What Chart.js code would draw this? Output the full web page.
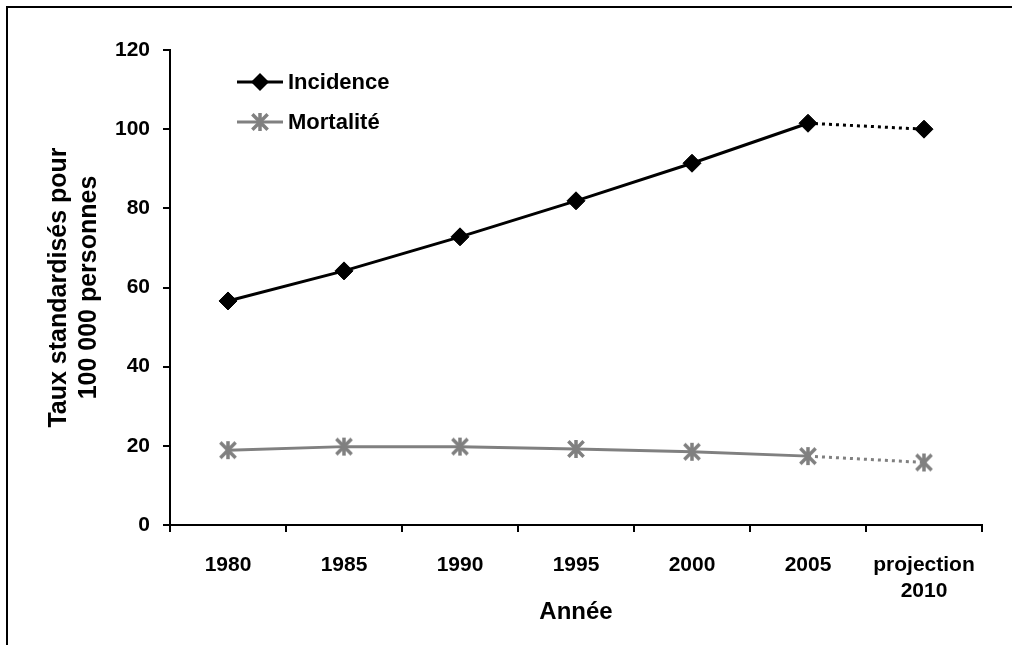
<!DOCTYPE html>
<html lang="fr">
<head>
<meta charset="utf-8">
<title>Incidence et mortalité</title>
<script src="https://cdn.jsdelivr.net/npm/chart.js@4.4.1/dist/chart.umd.min.js"></script>
<style>
  html, body { margin: 0; padding: 0; background: #fff; }
  canvas { display: block; }
</style>
</head>
<body>
<canvas id="chart" width="1012" height="645"></canvas>
<script>
// données
const annees = ['1980', '1985', '1990', '1995', '2000', '2005', ['projection', '2010']];
const incidence = [56.6, 64.2, 72.8, 81.9, 91.4, 101.5, 100.0];
const mortalite = [18.9, 19.8, 19.8, 19.2, 18.5, 17.4, 15.8];
const yMin = 0;
const yMax = 120;
const yPas = 20;

const NOIR = '#000000';
const GRIS = '#808080';
const POLICE = "'Liberation Sans', Arial, sans-serif";

// marqueur astérisque (X + trait vertical) pour la mortalité
function makeStar(size, color) {
  const c = document.createElement('canvas');
  c.width = size;
  c.height = size;
  const g = c.getContext('2d');
  const m = size / 2;
  const r = size / 2 - 2;
  g.strokeStyle = color;
  g.lineWidth = 3.5;
  g.lineCap = 'butt';
  g.beginPath();
  g.moveTo(m - r * 0.85, m - r * 0.85); g.lineTo(m + r * 0.85, m + r * 0.85);
  g.moveTo(m + r * 0.85, m - r * 0.85); g.lineTo(m - r * 0.85, m + r * 0.85);
  g.moveTo(m, m - r); g.lineTo(m, m + r);
  g.stroke();
  return c;
}
const star = makeStar(22, GRIS);

// le dernier segment (vers la projection) est en pointillé
const pointille = (ctx) => ctx.p1DataIndex === annees.length - 1 ? [3, 4] : undefined;

// cadre + légende dessinés à la main
const decor = {
  id: 'decor',
  beforeDraw(chart) {
    const ctx = chart.ctx;
    ctx.save();
    ctx.fillStyle = '#fff';
    ctx.fillRect(0, 0, chart.width, chart.height);
    ctx.strokeStyle = NOIR;
    ctx.lineWidth = 2;
    ctx.beginPath();
    ctx.moveTo(7, chart.height);
    ctx.lineTo(7, 7);
    ctx.lineTo(chart.width, 7);
    ctx.stroke();
    ctx.restore();
  },
  afterDraw(chart) {
    const ctx = chart.ctx;
    const x0 = 237, x1 = 283, xm = 260;
    ctx.save();
    ctx.font = 'bold 22px ' + POLICE;
    ctx.textBaseline = 'middle';
    ctx.fillStyle = NOIR;

    // Incidence
    let y = 82;
    ctx.strokeStyle = NOIR;
    ctx.lineWidth = 3;
    ctx.beginPath(); ctx.moveTo(x0, y); ctx.lineTo(x1, y); ctx.stroke();
    ctx.beginPath();
    ctx.moveTo(xm, y - 9); ctx.lineTo(xm + 9, y); ctx.lineTo(xm, y + 9); ctx.lineTo(xm - 9, y);
    ctx.closePath();
    ctx.fill();
    ctx.fillText(chart.data.datasets[0].label, 288, y + 1);

    // Mortalité
    y = 122;
    ctx.strokeStyle = GRIS;
    ctx.beginPath(); ctx.moveTo(x0, y); ctx.lineTo(x1, y); ctx.stroke();
    ctx.drawImage(star, xm - 11, y - 11);
    ctx.fillStyle = NOIR;
    ctx.fillText(chart.data.datasets[1].label, 288, y + 1);
    ctx.restore();
  }
};

new Chart(document.getElementById('chart'), {
  type: 'line',
  data: {
    labels: annees,
    datasets: [{
      label: 'Incidence',
      data: incidence,
      borderColor: NOIR,
      backgroundColor: NOIR,
      borderWidth: 3,
      pointStyle: 'rectRot',
      pointRadius: 9,
      pointBorderWidth: 1,
      tension: 0,
      segment: { borderDash: pointille }
    }, {
      label: 'Mortalité',
      data: mortalite,
      borderColor: GRIS,
      backgroundColor: GRIS,
      borderWidth: 3,
      pointStyle: star,
      tension: 0,
      segment: { borderDash: pointille }
    }]
  },
  options: {
    responsive: false,
    animation: false,
    layout: { padding: { left: 0, right: 30, top: 50, bottom: 0 } },
    plugins: {
      legend: { display: false },
      tooltip: { enabled: false }
    },
    scales: {
      x: {
        offset: true,
        grid: { offset: true, drawOnChartArea: false, drawTicks: true, tickLength: 7, color: NOIR, lineWidth: 2 },
        border: { display: true, color: NOIR, width: 2 },
        ticks: { color: NOIR, padding: 21, maxRotation: 0, autoSkip: false, font: { family: POLICE, size: 21, weight: 'bold' } },
        title: { display: true, text: 'Année', color: NOIR, padding: { top: 0, bottom: 18 }, font: { family: POLICE, size: 24, weight: 'bold' } },
        afterFit(scale) { scale.height = 120; }
      },
      y: {
        min: yMin,
        max: yMax,
        ticks: { stepSize: yPas, color: NOIR, padding: 13, font: { family: POLICE, size: 21, weight: 'bold' } },
        grid: { drawOnChartArea: false, drawTicks: true, tickLength: 7, color: NOIR, lineWidth: 2 },
        border: { display: true, color: NOIR, width: 2 },
        title: { display: true, text: ['Taux standardisés pour', '100 000 personnes'], color: NOIR, padding: { top: 44, bottom: 0 }, font: { family: POLICE, size: 25, weight: 'bold' } },
        afterFit(scale) { scale.width = 170; }
      }
    }
  },
  plugins: [decor]
});
</script>
</body>
</html>
